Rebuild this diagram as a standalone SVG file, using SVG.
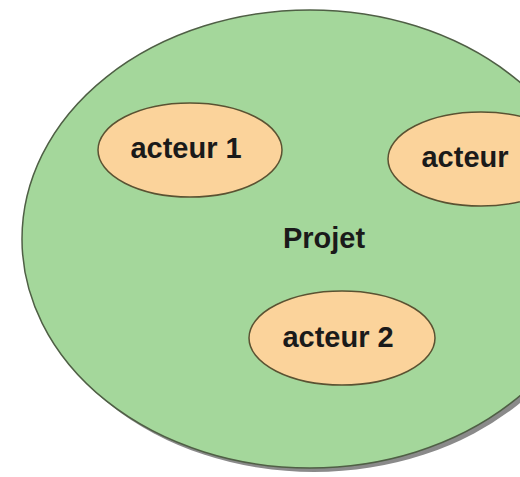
<svg xmlns="http://www.w3.org/2000/svg" width="520" height="477" viewBox="0 0 520 477">
<style>
.big{fill:#a4d79b;stroke:#4f5f45;stroke-width:1.5}
.shadow{fill:#8a8a8a}
.actor{fill:#fbd39b;stroke:#5a5232;stroke-width:1.5}
.lbl{font-family:"Liberation Sans",Arial,sans-serif;font-weight:bold;font-size:29px;fill:#1a1a1a;text-anchor:middle}
</style>
<rect width="520" height="477" fill="#ffffff"/>
<g id="projet">
<ellipse class="shadow" cx="314" cy="243" rx="288" ry="229"/>
<ellipse class="big" cx="310" cy="239" rx="288" ry="229"/>
<text class="lbl" x="324" y="248">Projet</text>
</g>
<g id="acteur1">
<ellipse class="actor" cx="190" cy="150" rx="92" ry="47"/>
<text class="lbl" x="186" y="158">acteur 1</text>
</g>
<g id="acteur3">
<ellipse class="actor" cx="481" cy="159" rx="93" ry="47"/>
<text class="lbl" x="465" y="167">acteur</text>
</g>
<g id="acteur2">
<ellipse class="actor" cx="342" cy="338" rx="93" ry="47"/>
<text class="lbl" x="338" y="347">acteur 2</text>
</g>
<g id="connectors"></g>
</svg>
